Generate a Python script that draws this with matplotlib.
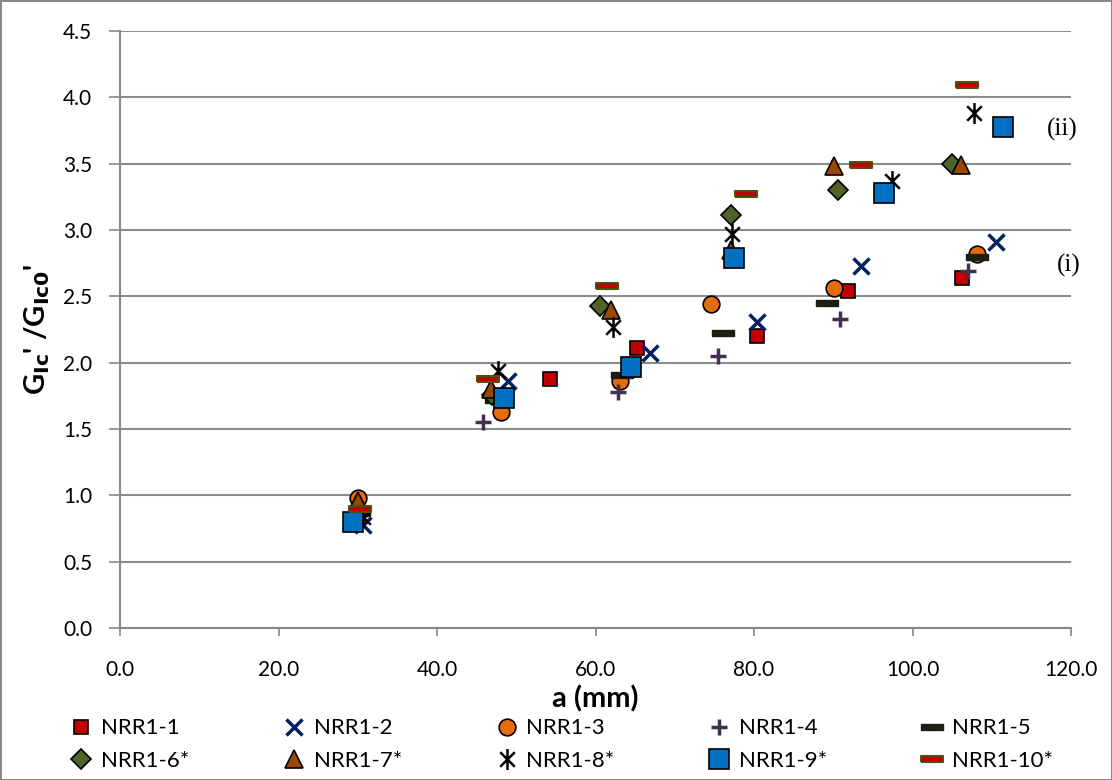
import matplotlib
matplotlib.use('Agg')
import matplotlib.pyplot as plt
from matplotlib.path import Path

plt.rcParams['font.family'] = ['Lato', 'DejaVu Sans']

# crack length a (mm) and normalised G values per specimen
x1 = [54.2, 65.2, 80.4, 91.9, 106.3]
y1 = [1.88, 2.11, 2.20, 2.54, 2.64]
x2 = [30.6, 49.0, 66.9, 80.4, 93.5, 110.5]
y2 = [0.78, 1.86, 2.07, 2.31, 2.73, 2.91]
x3 = [30.0, 48.1, 63.1, 74.6, 90.1, 108.1]
y3 = [0.98, 1.63, 1.86, 2.44, 2.56, 2.82]
x4 = [45.8, 62.8, 75.5, 90.9, 107.0]
y4 = [1.55, 1.78, 2.05, 2.33, 2.69]
x5 = [30.2, 47.4, 63.4, 76.1, 89.2, 108.2]
y5 = [0.87, 1.72, 1.91, 2.22, 2.45, 2.80]
x6 = [30.3, 46.9, 60.6, 77.1, 90.6, 105.0]
y6 = [0.87, 1.76, 2.43, 3.11, 3.30, 3.50]
x7 = [30.0, 46.8, 62.0, 77.1, 90.1, 106.1]
y7 = [0.96, 1.80, 2.40, 2.85, 3.48, 3.49]
x8 = [30.6, 47.7, 62.2, 77.2, 97.4, 107.8]
y8 = [0.84, 1.94, 2.27, 2.97, 3.37, 3.88]
x9 = [29.4, 48.5, 64.5, 77.5, 96.4, 111.4]
y9 = [0.80, 1.73, 1.97, 2.79, 3.28, 3.78]
x10 = [30.3, 46.4, 61.4, 79.0, 93.5, 106.9]
y10 = [0.90, 1.88, 2.58, 3.27, 3.49, 4.09]

dash = [(-1, -0.3), (1, -0.3), (1, 0.3), (-1, 0.3), (-1, -0.3)]
star = Path([(-0.7, -0.7), (0.7, 0.7), (-0.7, 0.7), (0.7, -0.7), (0, -1), (0, 1)],
            [Path.MOVETO, Path.LINETO, Path.MOVETO, Path.LINETO, Path.MOVETO, Path.LINETO])

fig = plt.figure(figsize=(11.12, 7.8), dpi=100)
fig.patch.set_edgecolor('#888888')
fig.patch.set_linewidth(2)
ax = fig.add_axes([120 / 1112, 1 - 628 / 780, 951 / 1112, 597 / 780])

h1, = ax.plot(x1, y1, ls='none', marker='s', ms=10, mfc='#C00000', mec='black', mew=1.2, label='NRR1-1')
h2, = ax.plot(x2, y2, ls='none', marker='x', ms=12, color='#002060', mew=2.5, label='NRR1-2')
h3, = ax.plot(x3, y3, ls='none', marker='o', ms=12, mfc='#E46C0A', mec='black', mew=1.2, label='NRR1-3')
h4, = ax.plot(x4, y4, ls='none', marker='+', ms=12, color='#403152', mew=2.5, label='NRR1-4')
h5, = ax.plot(x5, y5, ls='none', marker=dash, ms=16, mfc='#1E1E14', mec='#1E1E14', mew=1, label='NRR1-5')
h6, = ax.plot(x6, y6, ls='none', marker='D', ms=10, mfc='#4F6228', mec='black', mew=1.2, label='NRR1-6*')
h7, = ax.plot(x7, y7, ls='none', marker='^', ms=13, mfc='#984807', mec='black', mew=1.2, label='NRR1-7*')
h8, = ax.plot(x8, y8, ls='none', marker=star, ms=15, color='black', mew=1.8, label='NRR1-8*')
h9, = ax.plot(x9, y9, ls='none', marker='s', ms=14, mfc='#0070C0', mec='black', mew=1.2, label='NRR1-9*')
h10, = ax.plot(x10, y10, ls='none', marker=dash, ms=16, mfc='#C00000', mec='#4F4F10', mew=1.5, label='NRR1-10*')

ax.text(117.0, 3.76, '(ii)', fontsize=18, family='Liberation Serif', va='center', ha='left')
ax.text(118.2, 2.73, '(i)', fontsize=18, family='Liberation Serif', va='center', ha='left')

ax.set_xlim(0, 120)
ax.set_ylim(0, 4.5)
ax.set_xticks([0, 20, 40, 60, 80, 100, 120])
ax.set_xticklabels(['0.0', '20.0', '40.0', '60.0', '80.0', '100.0', '120.0'])
ax.set_yticks([i * 0.5 for i in range(10)])
ax.set_yticklabels(['%.1f' % (i * 0.5) for i in range(10)])
ax.tick_params(labelsize=15, color='#888888', width=1.2)
ax.tick_params(axis='x', length=6, pad=17)
ax.tick_params(axis='y', length=8, pad=12)
ax.grid(axis='y', color='#8c8c8c', lw=1.5)
ax.set_axisbelow(True)
for s in ['top', 'right']:
    ax.spines[s].set_visible(False)
for s in ['left', 'bottom']:
    ax.spines[s].set_color('#888888')
    ax.spines[s].set_linewidth(1.5)

ax.set_xlabel('a (mm)', fontsize=21, fontweight='bold', labelpad=4)
ax.set_ylabel(r"G$_{\mathbf{Ic}}$' /G$_{\mathbf{Ic0}}$'", fontsize=21, fontweight='bold', labelpad=8)

# legend rows read left to right
order = [h1, h6, h2, h7, h3, h8, h4, h9, h5, h10]
fig.legend(handles=order, loc='lower left', bbox_to_anchor=(50 / 1112, -0.008), ncol=5, frameon=False,
           fontsize=16, handletextpad=0.2, columnspacing=4.0, labelspacing=0.55,
           borderaxespad=0.3, handlelength=1.4)

fig.savefig('out.png', dpi=100, edgecolor=fig.get_edgecolor())
